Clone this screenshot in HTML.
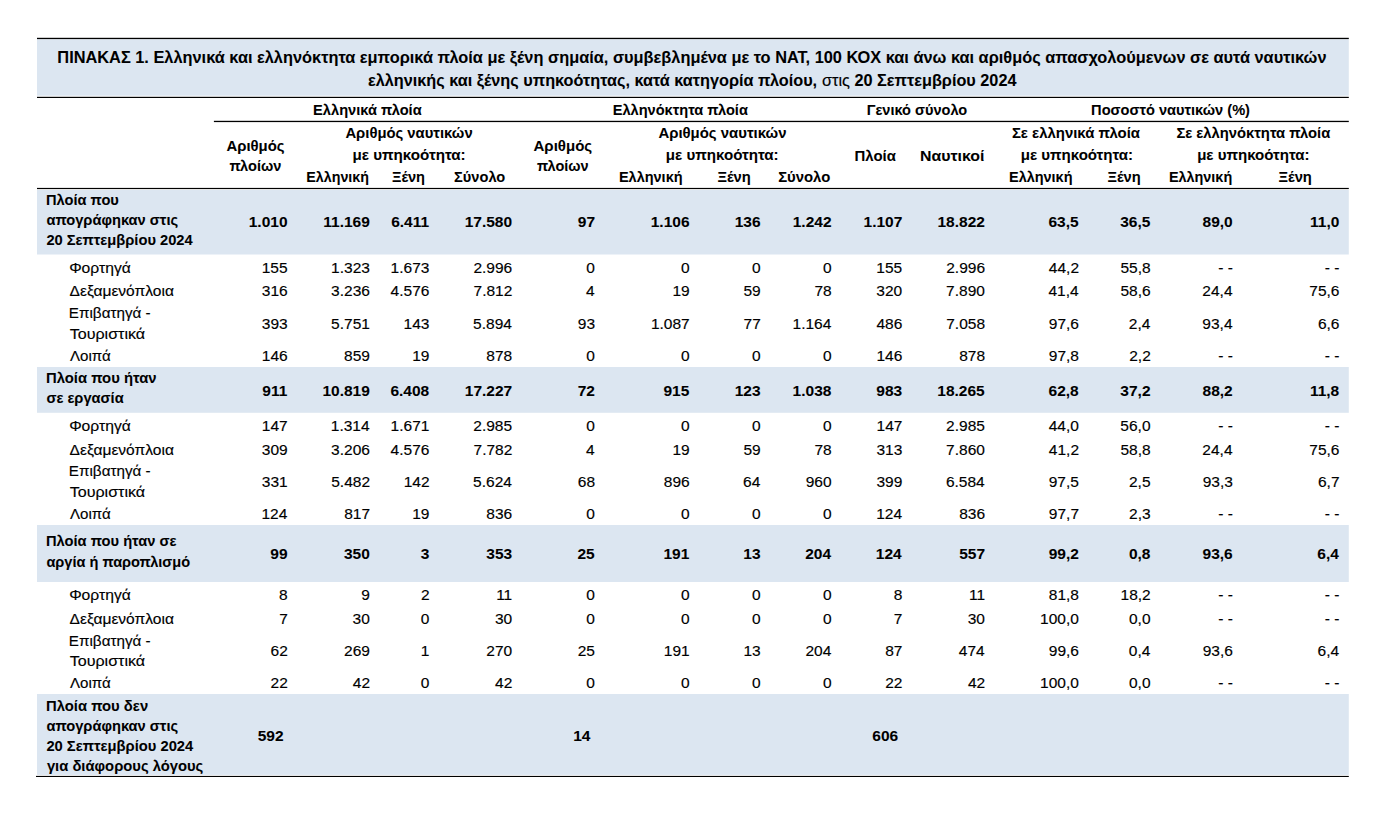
<!DOCTYPE html>
<html><head><meta charset="utf-8"><title>ΠΙΝΑΚΑΣ 1</title>
<style>
html,body{margin:0;padding:0;background:#fff;width:1395px;height:833px;overflow:hidden}
svg{display:block}
text{font-family:"Liberation Sans",sans-serif;fill:#000;white-space:pre}
.b{font-weight:bold;stroke:#000;stroke-width:0.05px}
.r{font-weight:normal;stroke:#000;stroke-width:0.15px}
</style></head><body>
<svg width="1395" height="833" viewBox="0 0 1395 833" font-size="14.5">
<rect x="37" y="39.3" width="1311.8" height="56.4" fill="#DCE6F1"/>
<rect x="37" y="190" width="1311.8" height="64.5" fill="#DCE6F1"/>
<rect x="37" y="367" width="1311.8" height="45.8" fill="#DCE6F1"/>
<rect x="37" y="525" width="1311.8" height="57" fill="#DCE6F1"/>
<rect x="37" y="694" width="1311.8" height="80.9" fill="#DCE6F1"/>
<rect x="37" y="37.8" width="1311.8" height="1.3" fill="#000"/>
<rect x="37" y="96.8" width="1311.8" height="1.2" fill="#000"/>
<rect x="213.9" y="120.8" width="1134.9" height="1.3" fill="#000"/>
<rect x="37" y="187.9" width="1311.8" height="1.2" fill="#000"/>
<rect x="36" y="775.9" width="1312.8" height="1.1" fill="#000"/>
<text class="b" transform="translate(57.32 63) scale(0.9856 1)" font-size="16.6">ΠΙΝΑΚΑΣ 1. Ελληνικά και ελληνόκτητα εμπορικά πλοία με ξένη σημαία, συμβεβλημένα με το ΝΑΤ, 100 ΚΟΧ και άνω και αριθμός απασχολούμενων σε αυτά ναυτικών</text>
<text class="b" transform="translate(313.09 115) scale(1.0100 1)">Ελληνικά πλοία</text>
<text class="b" transform="translate(612.69 115) scale(1.0072 1)">Ελληνόκτητα πλοία</text>
<text class="b" transform="translate(866.7 115) scale(1.0036 1)">Γενικό σύνολο</text>
<text class="b" transform="translate(1091.09 115) scale(1.0073 1)">Ποσοστό ναυτικών (%)</text>
<text class="b" transform="translate(226.49 150.9) scale(1.0263 1)">Αριθμός</text>
<text class="b" transform="translate(229.5 171) scale(1.0062 1)">πλοίων</text>
<text class="b" transform="translate(345.39 138.4) scale(1.0237 1)">Αριθμός ναυτικών</text>
<text class="b" transform="translate(352.45 160.2) scale(1.0472 1)">με υπηκοότητα:</text>
<text class="b" transform="translate(306.31 181.8) scale(0.9849 1)">Ελληνική</text>
<text class="b" transform="translate(392 181.8) scale(1.0083 1)">Ξένη</text>
<text class="b" transform="translate(454.1 181.8) scale(1.0071 1)">Σύνολο</text>
<text class="b" transform="translate(533.49 150.9) scale(1.0370 1)">Αριθμός</text>
<text class="b" x="537" y="171">πλοίων</text>
<text class="b" transform="translate(658.39 138.4) scale(1.0301 1)">Αριθμός ναυτικών</text>
<text class="b" transform="translate(665.86 160.2) scale(1.0434 1)">με υπηκοότητα:</text>
<text class="b" x="618.9" y="181.8">Ελληνική</text>
<text class="b" transform="translate(717.39 181.8) scale(1.0179 1)">Ξένη</text>
<text class="b" transform="translate(778.18 181.8) scale(1.0252 1)">Σύνολο</text>
<text class="b" transform="translate(854.57 161.4) scale(1.0295 1)">Πλοία</text>
<text class="b" transform="translate(919.91 161.4) scale(1.0959 1)">Ναυτικοί</text>
<text class="b" transform="translate(1011.88 138.2) scale(1.0303 1)">Σε ελληνικά πλοία</text>
<text class="b" transform="translate(1020.76 160.2) scale(1.0396 1)">με υπηκοότητα:</text>
<text class="b" transform="translate(1176.39 138.2) scale(1.0195 1)">Σε ελληνόκτητα πλοία</text>
<text class="b" transform="translate(1197.16 160.2) scale(1.0396 1)">με υπηκοότητα:</text>
<text class="b" transform="translate(1009 181.8) scale(0.9978 1)">Ελληνική</text>
<text class="b" transform="translate(1107.49 181.8) scale(1.0147 1)">Ξένη</text>
<text class="b" transform="translate(1168.9 181.8) scale(0.9946 1)">Ελληνική</text>
<text class="b" transform="translate(1278.49 181.8) scale(1.0179 1)">Ξένη</text>
<text class="b" transform="translate(45.99 205.2) scale(1.0107 1)">Πλοία που</text>
<text class="b" transform="translate(46.39 225.2) scale(1.0126 1)">απογράφηκαν στις</text>
<text class="b" transform="translate(46.39 244.8) scale(1.0137 1)">20 Σεπτεμβρίου 2024</text>
<text class="b" transform="translate(248.71 226.8) scale(1.0350 1)" font-size="15">1.010</text>
<text class="b" transform="translate(323.23 226.8) scale(1.0350 1)" font-size="15">11.169</text>
<text class="b" transform="translate(391.16 226.8) scale(1.0350 1)" font-size="15">6.411</text>
<text class="b" transform="translate(464.68 226.8) scale(1.0350 1)" font-size="15">17.580</text>
<text class="b" transform="translate(577.8 226.8) scale(1.0350 1)" font-size="15">97</text>
<text class="b" transform="translate(650.71 226.8) scale(1.0350 1)" font-size="15">1.106</text>
<text class="b" transform="translate(734.66 226.8) scale(1.0350 1)" font-size="15">136</text>
<text class="b" transform="translate(792.71 226.8) scale(1.0350 1)" font-size="15">1.242</text>
<text class="b" transform="translate(863.51 226.8) scale(1.0350 1)" font-size="15">1.107</text>
<text class="b" transform="translate(937.48 226.8) scale(1.0350 1)" font-size="15">18.822</text>
<text class="b" transform="translate(1048.44 226.8) scale(1.0350 1)" font-size="15">63,5</text>
<text class="b" transform="translate(1120.14 226.8) scale(1.0350 1)" font-size="15">36,5</text>
<text class="b" transform="translate(1202.55 226.8) scale(1.0350 1)" font-size="15">89,0</text>
<text class="b" transform="translate(1310 226.8) scale(1.0350 1)" font-size="15">11,0</text>
<text class="r" transform="translate(69.14 272.7) scale(1.0802 1)">Φορτηγά</text>
<text class="r" transform="translate(69.57 296.4) scale(1.0738 1)">Δεξαμενόπλοια</text>
<text class="r" transform="translate(68.84 318.1) scale(1.0502 1)">Επιβατηγά -</text>
<text class="r" transform="translate(69.67 338.7) scale(1.1098 1)">Τουριστικά</text>
<text class="r" transform="translate(70 360.8) scale(1.0420 1)">Λοιπά</text>
<text class="r" transform="translate(261.66 272.7) scale(1.0350 1)" font-size="15">155</text>
<text class="r" transform="translate(331.11 272.7) scale(1.0350 1)" font-size="15">1.323</text>
<text class="r" transform="translate(390.61 272.7) scale(1.0350 1)" font-size="15">1.673</text>
<text class="r" transform="translate(473.41 272.7) scale(1.0350 1)" font-size="15">2.996</text>
<text class="r" transform="translate(586.33 272.7) scale(1.0350 1)" font-size="15">0</text>
<text class="r" transform="translate(680.93 272.7) scale(1.0350 1)" font-size="15">0</text>
<text class="r" transform="translate(751.93 272.7) scale(1.0350 1)" font-size="15">0</text>
<text class="r" transform="translate(822.93 272.7) scale(1.0350 1)" font-size="15">0</text>
<text class="r" transform="translate(876.36 272.7) scale(1.0350 1)" font-size="15">155</text>
<text class="r" transform="translate(946.21 272.7) scale(1.0350 1)" font-size="15">2.996</text>
<text class="r" transform="translate(1048.85 272.7) scale(1.0350 1)" font-size="15">44,2</text>
<text class="r" transform="translate(1120.45 272.7) scale(1.0350 1)" font-size="15">55,8</text>
<text class="r" transform="translate(1218.16 272.7) scale(1.0350 1)" font-size="15">- -</text>
<text class="r" transform="translate(1324.76 272.7) scale(1.0350 1)" font-size="15">- -</text>
<text class="r" transform="translate(261.76 296.4) scale(1.0350 1)" font-size="15">316</text>
<text class="r" transform="translate(331.11 296.4) scale(1.0350 1)" font-size="15">3.236</text>
<text class="r" transform="translate(390.61 296.4) scale(1.0350 1)" font-size="15">4.576</text>
<text class="r" transform="translate(473.52 296.4) scale(1.0350 1)" font-size="15">7.812</text>
<text class="r" transform="translate(586.12 296.4) scale(1.0350 1)" font-size="15">4</text>
<text class="r" transform="translate(672.4 296.4) scale(1.0350 1)" font-size="15">19</text>
<text class="r" transform="translate(743.4 296.4) scale(1.0350 1)" font-size="15">59</text>
<text class="r" transform="translate(814.4 296.4) scale(1.0350 1)" font-size="15">78</text>
<text class="r" transform="translate(876.36 296.4) scale(1.0350 1)" font-size="15">320</text>
<text class="r" transform="translate(946.11 296.4) scale(1.0350 1)" font-size="15">7.890</text>
<text class="r" transform="translate(1048.44 296.4) scale(1.0350 1)" font-size="15">41,4</text>
<text class="r" transform="translate(1120.45 296.4) scale(1.0350 1)" font-size="15">58,6</text>
<text class="r" transform="translate(1202.34 296.4) scale(1.0350 1)" font-size="15">24,4</text>
<text class="r" transform="translate(1309.25 296.4) scale(1.0350 1)" font-size="15">75,6</text>
<text class="r" transform="translate(261.76 328.5) scale(1.0350 1)" font-size="15">393</text>
<text class="r" transform="translate(331.11 328.5) scale(1.0350 1)" font-size="15">5.751</text>
<text class="r" transform="translate(403.56 328.5) scale(1.0350 1)" font-size="15">143</text>
<text class="r" transform="translate(473.1 328.5) scale(1.0350 1)" font-size="15">5.894</text>
<text class="r" transform="translate(577.8 328.5) scale(1.0350 1)" font-size="15">93</text>
<text class="r" transform="translate(650.92 328.5) scale(1.0350 1)" font-size="15">1.087</text>
<text class="r" transform="translate(743.5 328.5) scale(1.0350 1)" font-size="15">77</text>
<text class="r" transform="translate(792.5 328.5) scale(1.0350 1)" font-size="15">1.164</text>
<text class="r" transform="translate(876.46 328.5) scale(1.0350 1)" font-size="15">486</text>
<text class="r" transform="translate(946.21 328.5) scale(1.0350 1)" font-size="15">7.058</text>
<text class="r" transform="translate(1048.75 328.5) scale(1.0350 1)" font-size="15">97,6</text>
<text class="r" transform="translate(1128.77 328.5) scale(1.0350 1)" font-size="15">2,4</text>
<text class="r" transform="translate(1202.34 328.5) scale(1.0350 1)" font-size="15">93,4</text>
<text class="r" transform="translate(1317.88 328.5) scale(1.0350 1)" font-size="15">6,6</text>
<text class="r" transform="translate(261.76 360.8) scale(1.0350 1)" font-size="15">146</text>
<text class="r" transform="translate(344.06 360.8) scale(1.0350 1)" font-size="15">859</text>
<text class="r" transform="translate(412.2 360.8) scale(1.0350 1)" font-size="15">19</text>
<text class="r" transform="translate(486.36 360.8) scale(1.0350 1)" font-size="15">878</text>
<text class="r" transform="translate(586.33 360.8) scale(1.0350 1)" font-size="15">0</text>
<text class="r" transform="translate(680.93 360.8) scale(1.0350 1)" font-size="15">0</text>
<text class="r" transform="translate(751.93 360.8) scale(1.0350 1)" font-size="15">0</text>
<text class="r" transform="translate(822.93 360.8) scale(1.0350 1)" font-size="15">0</text>
<text class="r" transform="translate(876.46 360.8) scale(1.0350 1)" font-size="15">146</text>
<text class="r" transform="translate(959.16 360.8) scale(1.0350 1)" font-size="15">878</text>
<text class="r" transform="translate(1048.75 360.8) scale(1.0350 1)" font-size="15">97,8</text>
<text class="r" transform="translate(1129.19 360.8) scale(1.0350 1)" font-size="15">2,2</text>
<text class="r" transform="translate(1218.16 360.8) scale(1.0350 1)" font-size="15">- -</text>
<text class="r" transform="translate(1324.76 360.8) scale(1.0350 1)" font-size="15">- -</text>
<text class="b" transform="translate(45.98 383.2) scale(1.0230 1)">Πλοία που ήταν</text>
<text class="b" transform="translate(46.39 403.2) scale(1.0104 1)">σε εργασία</text>
<text class="b" transform="translate(262.31 395.6) scale(1.0350 1)" font-size="15">911</text>
<text class="b" transform="translate(322.38 395.6) scale(1.0350 1)" font-size="15">10.819</text>
<text class="b" transform="translate(390.41 395.6) scale(1.0350 1)" font-size="15">6.408</text>
<text class="b" transform="translate(464.78 395.6) scale(1.0350 1)" font-size="15">17.227</text>
<text class="b" transform="translate(577.69 395.6) scale(1.0350 1)" font-size="15">72</text>
<text class="b" transform="translate(663.45 395.6) scale(1.0350 1)" font-size="15">915</text>
<text class="b" transform="translate(734.66 395.6) scale(1.0350 1)" font-size="15">123</text>
<text class="b" transform="translate(792.61 395.6) scale(1.0350 1)" font-size="15">1.038</text>
<text class="b" transform="translate(876.36 395.6) scale(1.0350 1)" font-size="15">983</text>
<text class="b" transform="translate(937.27 395.6) scale(1.0350 1)" font-size="15">18.265</text>
<text class="b" transform="translate(1048.54 395.6) scale(1.0350 1)" font-size="15">62,8</text>
<text class="b" transform="translate(1120.35 395.6) scale(1.0350 1)" font-size="15">37,2</text>
<text class="b" transform="translate(1202.55 395.6) scale(1.0350 1)" font-size="15">88,2</text>
<text class="b" transform="translate(1309.9 395.6) scale(1.0350 1)" font-size="15">11,8</text>
<text class="r" transform="translate(69.14 431) scale(1.0802 1)">Φορτηγά</text>
<text class="r" transform="translate(69.57 454.7) scale(1.0738 1)">Δεξαμενόπλοια</text>
<text class="r" transform="translate(68.84 476.4) scale(1.0502 1)">Επιβατηγά -</text>
<text class="r" transform="translate(69.67 497) scale(1.1098 1)">Τουριστικά</text>
<text class="r" transform="translate(70 519.1) scale(1.0420 1)">Λοιπά</text>
<text class="r" transform="translate(261.87 431) scale(1.0350 1)" font-size="15">147</text>
<text class="r" transform="translate(330.8 431) scale(1.0350 1)" font-size="15">1.314</text>
<text class="r" transform="translate(390.61 431) scale(1.0350 1)" font-size="15">1.671</text>
<text class="r" transform="translate(473.31 431) scale(1.0350 1)" font-size="15">2.985</text>
<text class="r" transform="translate(586.33 431) scale(1.0350 1)" font-size="15">0</text>
<text class="r" transform="translate(680.93 431) scale(1.0350 1)" font-size="15">0</text>
<text class="r" transform="translate(751.93 431) scale(1.0350 1)" font-size="15">0</text>
<text class="r" transform="translate(822.93 431) scale(1.0350 1)" font-size="15">0</text>
<text class="r" transform="translate(876.57 431) scale(1.0350 1)" font-size="15">147</text>
<text class="r" transform="translate(946.11 431) scale(1.0350 1)" font-size="15">2.985</text>
<text class="r" transform="translate(1048.65 431) scale(1.0350 1)" font-size="15">44,0</text>
<text class="r" transform="translate(1120.35 431) scale(1.0350 1)" font-size="15">56,0</text>
<text class="r" transform="translate(1218.16 431) scale(1.0350 1)" font-size="15">- -</text>
<text class="r" transform="translate(1324.76 431) scale(1.0350 1)" font-size="15">- -</text>
<text class="r" transform="translate(261.76 454.7) scale(1.0350 1)" font-size="15">309</text>
<text class="r" transform="translate(331.11 454.7) scale(1.0350 1)" font-size="15">3.206</text>
<text class="r" transform="translate(390.61 454.7) scale(1.0350 1)" font-size="15">4.576</text>
<text class="r" transform="translate(473.52 454.7) scale(1.0350 1)" font-size="15">7.782</text>
<text class="r" transform="translate(586.12 454.7) scale(1.0350 1)" font-size="15">4</text>
<text class="r" transform="translate(672.4 454.7) scale(1.0350 1)" font-size="15">19</text>
<text class="r" transform="translate(743.4 454.7) scale(1.0350 1)" font-size="15">59</text>
<text class="r" transform="translate(814.4 454.7) scale(1.0350 1)" font-size="15">78</text>
<text class="r" transform="translate(876.46 454.7) scale(1.0350 1)" font-size="15">313</text>
<text class="r" transform="translate(946.11 454.7) scale(1.0350 1)" font-size="15">7.860</text>
<text class="r" transform="translate(1048.85 454.7) scale(1.0350 1)" font-size="15">41,2</text>
<text class="r" transform="translate(1120.45 454.7) scale(1.0350 1)" font-size="15">58,8</text>
<text class="r" transform="translate(1202.34 454.7) scale(1.0350 1)" font-size="15">24,4</text>
<text class="r" transform="translate(1309.25 454.7) scale(1.0350 1)" font-size="15">75,6</text>
<text class="r" transform="translate(261.76 486.8) scale(1.0350 1)" font-size="15">331</text>
<text class="r" transform="translate(331.22 486.8) scale(1.0350 1)" font-size="15">5.482</text>
<text class="r" transform="translate(403.67 486.8) scale(1.0350 1)" font-size="15">142</text>
<text class="r" transform="translate(473.1 486.8) scale(1.0350 1)" font-size="15">5.624</text>
<text class="r" transform="translate(577.8 486.8) scale(1.0350 1)" font-size="15">68</text>
<text class="r" transform="translate(663.76 486.8) scale(1.0350 1)" font-size="15">896</text>
<text class="r" transform="translate(743.09 486.8) scale(1.0350 1)" font-size="15">64</text>
<text class="r" transform="translate(805.66 486.8) scale(1.0350 1)" font-size="15">960</text>
<text class="r" transform="translate(876.46 486.8) scale(1.0350 1)" font-size="15">399</text>
<text class="r" transform="translate(945.9 486.8) scale(1.0350 1)" font-size="15">6.584</text>
<text class="r" transform="translate(1048.65 486.8) scale(1.0350 1)" font-size="15">97,5</text>
<text class="r" transform="translate(1128.98 486.8) scale(1.0350 1)" font-size="15">2,5</text>
<text class="r" transform="translate(1202.65 486.8) scale(1.0350 1)" font-size="15">93,3</text>
<text class="r" transform="translate(1317.99 486.8) scale(1.0350 1)" font-size="15">6,7</text>
<text class="r" transform="translate(261.45 519.1) scale(1.0350 1)" font-size="15">124</text>
<text class="r" transform="translate(344.17 519.1) scale(1.0350 1)" font-size="15">817</text>
<text class="r" transform="translate(412.2 519.1) scale(1.0350 1)" font-size="15">19</text>
<text class="r" transform="translate(486.36 519.1) scale(1.0350 1)" font-size="15">836</text>
<text class="r" transform="translate(586.33 519.1) scale(1.0350 1)" font-size="15">0</text>
<text class="r" transform="translate(680.93 519.1) scale(1.0350 1)" font-size="15">0</text>
<text class="r" transform="translate(751.93 519.1) scale(1.0350 1)" font-size="15">0</text>
<text class="r" transform="translate(822.93 519.1) scale(1.0350 1)" font-size="15">0</text>
<text class="r" transform="translate(876.15 519.1) scale(1.0350 1)" font-size="15">124</text>
<text class="r" transform="translate(959.16 519.1) scale(1.0350 1)" font-size="15">836</text>
<text class="r" transform="translate(1048.85 519.1) scale(1.0350 1)" font-size="15">97,7</text>
<text class="r" transform="translate(1129.08 519.1) scale(1.0350 1)" font-size="15">2,3</text>
<text class="r" transform="translate(1218.16 519.1) scale(1.0350 1)" font-size="15">- -</text>
<text class="r" transform="translate(1324.76 519.1) scale(1.0350 1)" font-size="15">- -</text>
<text class="b" transform="translate(45.99 545.8) scale(1.0136 1)">Πλοία που ήταν σε</text>
<text class="b" transform="translate(46.4 567) scale(1.0050 1)">αργία ή παροπλισμό</text>
<text class="b" transform="translate(270.29 558.7) scale(1.0350 1)" font-size="15">99</text>
<text class="b" transform="translate(343.96 558.7) scale(1.0350 1)" font-size="15">350</text>
<text class="b" transform="translate(420.73 558.7) scale(1.0350 1)" font-size="15">3</text>
<text class="b" transform="translate(486.26 558.7) scale(1.0350 1)" font-size="15">353</text>
<text class="b" transform="translate(577.49 558.7) scale(1.0350 1)" font-size="15">25</text>
<text class="b" transform="translate(663.45 558.7) scale(1.0350 1)" font-size="15">191</text>
<text class="b" transform="translate(743.29 558.7) scale(1.0350 1)" font-size="15">13</text>
<text class="b" transform="translate(805.14 558.7) scale(1.0350 1)" font-size="15">204</text>
<text class="b" transform="translate(875.84 558.7) scale(1.0350 1)" font-size="15">124</text>
<text class="b" transform="translate(959.16 558.7) scale(1.0350 1)" font-size="15">557</text>
<text class="b" transform="translate(1048.65 558.7) scale(1.0350 1)" font-size="15">99,2</text>
<text class="b" transform="translate(1128.88 558.7) scale(1.0350 1)" font-size="15">0,8</text>
<text class="b" transform="translate(1202.55 558.7) scale(1.0350 1)" font-size="15">93,6</text>
<text class="b" transform="translate(1317.26 558.7) scale(1.0350 1)" font-size="15">6,4</text>
<text class="r" transform="translate(69.14 600.1) scale(1.0802 1)">Φορτηγά</text>
<text class="r" transform="translate(69.57 623.8) scale(1.0738 1)">Δεξαμενόπλοια</text>
<text class="r" transform="translate(68.84 645.5) scale(1.0502 1)">Επιβατηγά -</text>
<text class="r" transform="translate(69.67 666.1) scale(1.1098 1)">Τουριστικά</text>
<text class="r" transform="translate(70 688.2) scale(1.0420 1)">Λοιπά</text>
<text class="r" transform="translate(279.03 600.1) scale(1.0350 1)" font-size="15">8</text>
<text class="r" transform="translate(361.33 600.1) scale(1.0350 1)" font-size="15">9</text>
<text class="r" transform="translate(420.93 600.1) scale(1.0350 1)" font-size="15">2</text>
<text class="r" transform="translate(496.15 600.1) scale(1.0350 1)" font-size="15">11</text>
<text class="r" transform="translate(586.33 600.1) scale(1.0350 1)" font-size="15">0</text>
<text class="r" transform="translate(680.93 600.1) scale(1.0350 1)" font-size="15">0</text>
<text class="r" transform="translate(751.93 600.1) scale(1.0350 1)" font-size="15">0</text>
<text class="r" transform="translate(822.93 600.1) scale(1.0350 1)" font-size="15">0</text>
<text class="r" transform="translate(893.73 600.1) scale(1.0350 1)" font-size="15">8</text>
<text class="r" transform="translate(968.95 600.1) scale(1.0350 1)" font-size="15">11</text>
<text class="r" transform="translate(1048.75 600.1) scale(1.0350 1)" font-size="15">81,8</text>
<text class="r" transform="translate(1120.55 600.1) scale(1.0350 1)" font-size="15">18,2</text>
<text class="r" transform="translate(1218.16 600.1) scale(1.0350 1)" font-size="15">- -</text>
<text class="r" transform="translate(1324.76 600.1) scale(1.0350 1)" font-size="15">- -</text>
<text class="r" transform="translate(279.13 623.8) scale(1.0350 1)" font-size="15">7</text>
<text class="r" transform="translate(352.59 623.8) scale(1.0350 1)" font-size="15">30</text>
<text class="r" transform="translate(420.73 623.8) scale(1.0350 1)" font-size="15">0</text>
<text class="r" transform="translate(494.89 623.8) scale(1.0350 1)" font-size="15">30</text>
<text class="r" transform="translate(586.33 623.8) scale(1.0350 1)" font-size="15">0</text>
<text class="r" transform="translate(680.93 623.8) scale(1.0350 1)" font-size="15">0</text>
<text class="r" transform="translate(751.93 623.8) scale(1.0350 1)" font-size="15">0</text>
<text class="r" transform="translate(822.93 623.8) scale(1.0350 1)" font-size="15">0</text>
<text class="r" transform="translate(893.83 623.8) scale(1.0350 1)" font-size="15">7</text>
<text class="r" transform="translate(967.69 623.8) scale(1.0350 1)" font-size="15">30</text>
<text class="r" transform="translate(1040.01 623.8) scale(1.0350 1)" font-size="15">100,0</text>
<text class="r" transform="translate(1128.98 623.8) scale(1.0350 1)" font-size="15">0,0</text>
<text class="r" transform="translate(1218.16 623.8) scale(1.0350 1)" font-size="15">- -</text>
<text class="r" transform="translate(1324.76 623.8) scale(1.0350 1)" font-size="15">- -</text>
<text class="r" transform="translate(270.5 655.9) scale(1.0350 1)" font-size="15">62</text>
<text class="r" transform="translate(344.06 655.9) scale(1.0350 1)" font-size="15">269</text>
<text class="r" transform="translate(420.83 655.9) scale(1.0350 1)" font-size="15">1</text>
<text class="r" transform="translate(486.26 655.9) scale(1.0350 1)" font-size="15">270</text>
<text class="r" transform="translate(577.69 655.9) scale(1.0350 1)" font-size="15">25</text>
<text class="r" transform="translate(663.76 655.9) scale(1.0350 1)" font-size="15">191</text>
<text class="r" transform="translate(743.4 655.9) scale(1.0350 1)" font-size="15">13</text>
<text class="r" transform="translate(805.45 655.9) scale(1.0350 1)" font-size="15">204</text>
<text class="r" transform="translate(885.2 655.9) scale(1.0350 1)" font-size="15">87</text>
<text class="r" transform="translate(958.85 655.9) scale(1.0350 1)" font-size="15">474</text>
<text class="r" transform="translate(1048.75 655.9) scale(1.0350 1)" font-size="15">99,6</text>
<text class="r" transform="translate(1128.77 655.9) scale(1.0350 1)" font-size="15">0,4</text>
<text class="r" transform="translate(1202.65 655.9) scale(1.0350 1)" font-size="15">93,6</text>
<text class="r" transform="translate(1317.57 655.9) scale(1.0350 1)" font-size="15">6,4</text>
<text class="r" transform="translate(270.5 688.2) scale(1.0350 1)" font-size="15">22</text>
<text class="r" transform="translate(352.8 688.2) scale(1.0350 1)" font-size="15">42</text>
<text class="r" transform="translate(420.73 688.2) scale(1.0350 1)" font-size="15">0</text>
<text class="r" transform="translate(495.1 688.2) scale(1.0350 1)" font-size="15">42</text>
<text class="r" transform="translate(586.33 688.2) scale(1.0350 1)" font-size="15">0</text>
<text class="r" transform="translate(680.93 688.2) scale(1.0350 1)" font-size="15">0</text>
<text class="r" transform="translate(751.93 688.2) scale(1.0350 1)" font-size="15">0</text>
<text class="r" transform="translate(822.93 688.2) scale(1.0350 1)" font-size="15">0</text>
<text class="r" transform="translate(885.2 688.2) scale(1.0350 1)" font-size="15">22</text>
<text class="r" transform="translate(967.9 688.2) scale(1.0350 1)" font-size="15">42</text>
<text class="r" transform="translate(1040.01 688.2) scale(1.0350 1)" font-size="15">100,0</text>
<text class="r" transform="translate(1128.98 688.2) scale(1.0350 1)" font-size="15">0,0</text>
<text class="r" transform="translate(1218.16 688.2) scale(1.0350 1)" font-size="15">- -</text>
<text class="r" transform="translate(1324.76 688.2) scale(1.0350 1)" font-size="15">- -</text>
<text class="b" transform="translate(45.98 711) scale(1.0225 1)">Πλοία που δεν</text>
<text class="b" transform="translate(46.39 731.2) scale(1.0126 1)">απογράφηκαν στις</text>
<text class="b" transform="translate(46.39 751.2) scale(1.0171 1)">20 Σεπτεμβρίου 2024</text>
<text class="b" transform="translate(46.9 771.3) scale(1.0200 1)">για διάφορους λόγους</text>
<text class="b" transform="translate(257.66 740.9) scale(1.0350 1)" font-size="15">592</text>
<text class="b" transform="translate(573.18 740.9) scale(1.0350 1)" font-size="15">14</text>
<text class="b" transform="translate(872.36 740.9) scale(1.0350 1)" font-size="15">606</text>
<g transform="translate(367.91 85.6) scale(0.9802 1)" font-size="16.6"><text class="b" x="0" y="0">ελληνικής και ξένης υπηκοότητας, κατά κατηγορία πλοίου,</text><text class="r" x="463.29" y="0">στις</text><text class="b" x="496.4" y="0">20 Σεπτεμβρίου 2024</text></g>
</svg>
</body></html>
